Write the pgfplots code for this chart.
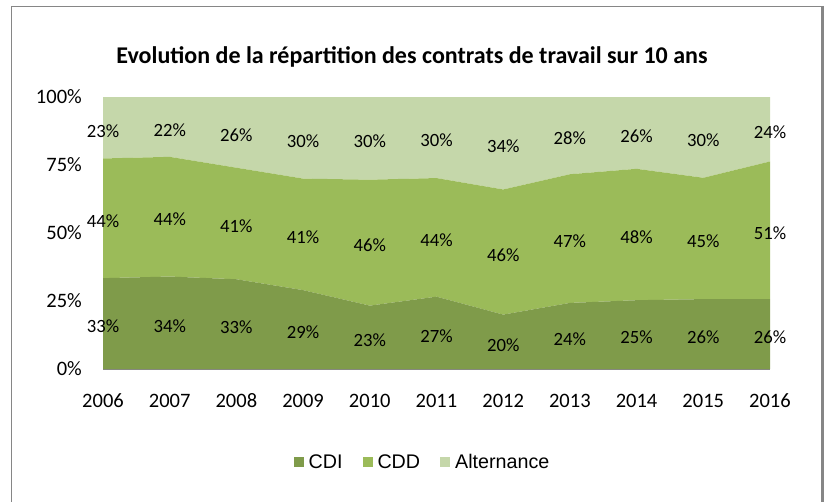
\documentclass[border=0pt]{standalone}
\usepackage{fontspec}
\setmainfont{Carlito}
\newfontfamily\arialfont{Liberation Sans}
\usepackage{pgfplots}
\pgfplotsset{compat=1.18}
\usepackage{pgfplotstable}
\definecolor{cdi}{HTML}{7F9B4A}
\definecolor{cdd}{HTML}{9BBB59}
\definecolor{alt}{HTML}{C5D7AA}
\definecolor{frame}{HTML}{868686}
\pgfplotstableread{
year cdi cdd alt
2006 33.4 44.0 22.6
2007 34 44 22
2008 33 41 26
2009 29 41 30
2010 23.3 46.3 30.4
2011 26.6 43.6 29.8
2012 20 46 34
2013 24.3 47.3 28.4
2014 25.3 48.3 26.4
2015 25.7 44.6 29.7
2016 25.7 50.6 23.7
}\data
\newcommand\lbl{\fontsize{18.7bp}{22bp}\selectfont}
\newcommand\tck{\fontsize{20.5bp}{24bp}\selectfont}
\newcommand\leg{\fontsize{19.7bp}{23bp}\selectfont}
\begin{document}
\begin{tikzpicture}
\useasboundingbox (0,0) rectangle (824bp,-502bp);
\clip (0,0) rectangle (824bp,-502bp);
\draw[frame, line width=1.5bp] (11.5bp,-6.5bp) rectangle (822bp,-520bp);
\draw[frame, line width=3bp] (822.5bp,-5.75bp) -- (822.5bp,-520bp);
\node[anchor=base, font=\fontsize{24bp}{28bp}\selectfont\bfseries] at (412bp,-63bp) {Evolution de la répartition des contrats de travail sur 10 ans};
\begin{axis}[
  at={(103bp,-369bp)}, anchor=south west,
  scale only axis, width=667bp, height=272bp,
  xmin=2006, xmax=2016, ymin=0, ymax=100,
  stack plots=y,
  clip=false,
  axis x line*=bottom, axis y line*=left,
  x axis line style={draw=frame, line width=1.2bp, -},
  y axis line style={draw=none},
  xtick={2006,...,2016}, ytick={0,25,50,75,100},
  major tick length=0,
  /pgf/number format/1000 sep={},
  /pgf/number format/assume math mode=true,
  ticklabel style={font=\tck, text=black},
  xticklabel style={anchor=center, inner sep=0pt, yshift=-32bp},
  yticklabel style={anchor=east, inner sep=0pt, xshift=-21bp},
  yticklabel={\pgfmathprintnumber{\tick}\%},
  every axis plot/.append style={draw=none},
  nodes near coords={\pgfmathprintnumber[fixed,precision=0]{\rawy}\%},
  every node near coord/.append style={font=\lbl, text=black, anchor=center, inner sep=0pt, yshift=-3bp, shift={(axis direction cs:0,-\rawy/2)}},
  legend image code/.code={\path[#1,draw=none] (0bp,-5bp) rectangle (10bp,5bp); \path (15bp,0bp);},
  legend style={at={(0.4775,-0.342)}, anchor=center, draw=none, fill=none, font=\arialfont\leg, legend columns=-1,
    nodes={inner sep=0bp},
    /tikz/every even column/.append style={column sep=20bp}},
]
\addplot[fill=cdi, visualization depends on={\thisrow{cdi} \as \rawy}] table[x=year, y=cdi] {\data} \closedcycle;
\addlegendentry{CDI}
\addplot[fill=cdd, visualization depends on={\thisrow{cdd} \as \rawy}] table[x=year, y=cdd] {\data} \closedcycle;
\addlegendentry{CDD}
\addplot[fill=alt, visualization depends on={\thisrow{alt} \as \rawy}] table[x=year, y=alt] {\data} \closedcycle;
\addlegendentry{Alternance}
\end{axis}
\end{tikzpicture}
\end{document}
